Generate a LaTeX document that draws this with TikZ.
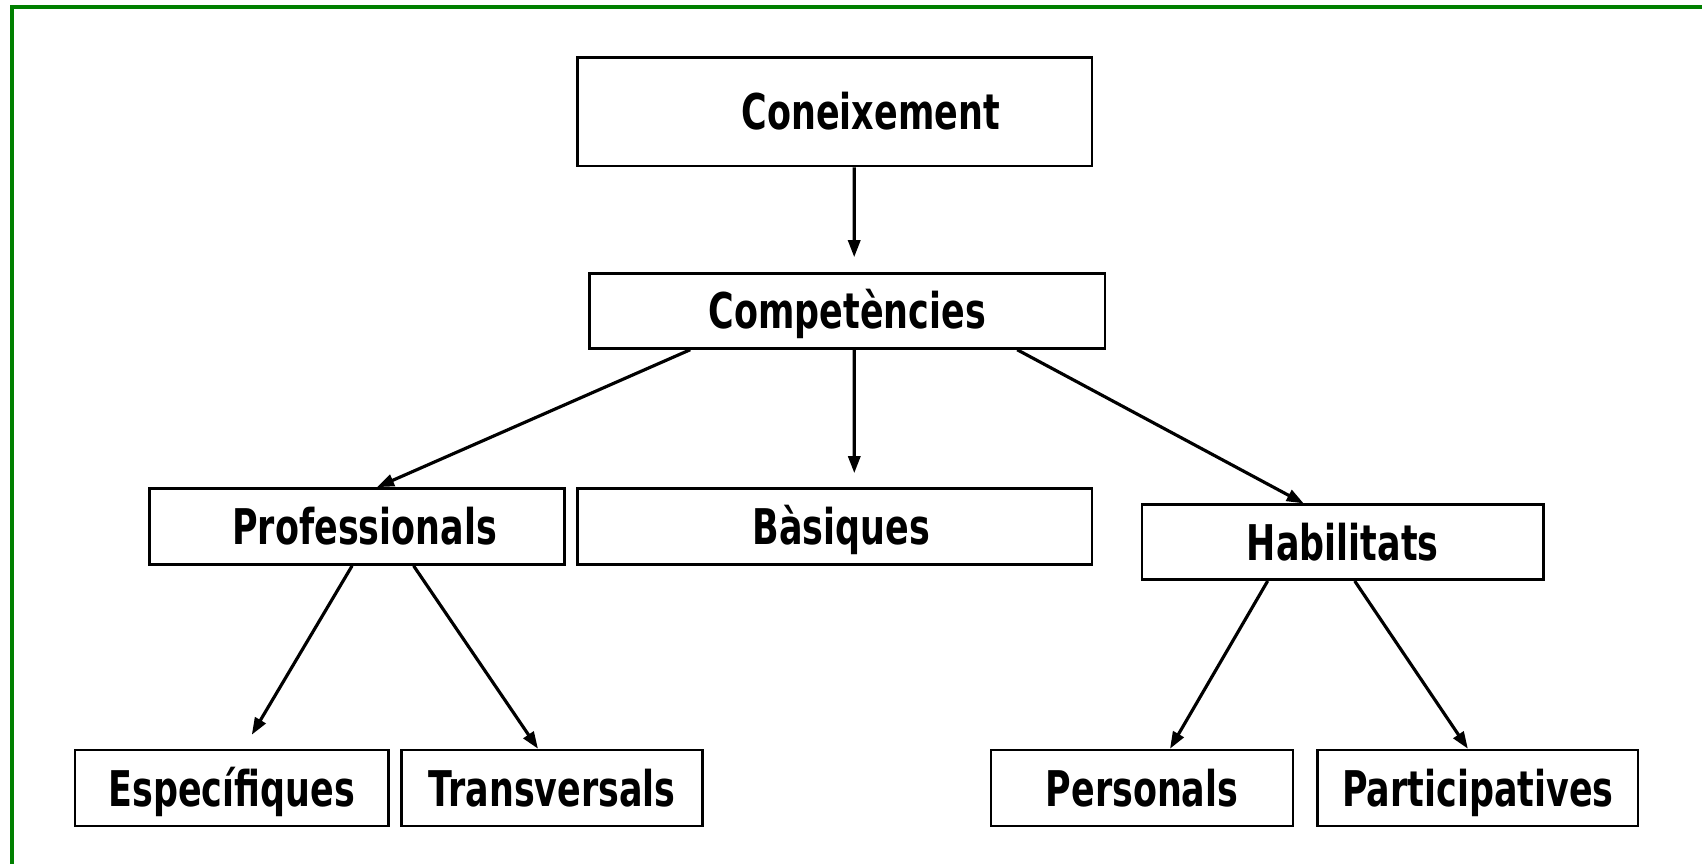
\documentclass[tikz,border=0pt]{standalone}
\usepackage{fontspec}
\usepackage{xcolor}
\usepackage{tikz}
\usetikzlibrary{arrows,arrows.meta,positioning}
\newfontfamily\boxfont{DejaVu Sans}[FakeStretch=0.71]
\definecolor{frame}{RGB}{0,128,0}

\begin{document}
\begin{tikzpicture}[
scale=1,
font=\boxfont\bfseries\fontsize{14pt}{16pt}\selectfont,
box/.style={draw,line width=0.75pt,rectangle,minimum height=0.76cm,inner sep=0pt,text height=0.36cm,text depth=0cm},
link/.style={line width=0.9pt,-{Triangle[length=1.7mm,width=1.2mm]}}
]
    % Page and frame
    \useasboundingbox (0,0) rectangle (17.02,8.64);
    \clip (0,0) rectangle (17.02,8.64);
    \fill[white] (0,0) rectangle (17.02,8.64);
    \draw[frame, line width=1.4pt] (0.12,-1) |- (18,8.57);

    % Draw boxes
    \node[box, minimum width=5.145cm, minimum height=1.085cm] (coneix) at (8.348,7.522) {\hspace*{0.72cm}Coneixement};
    \node[box, minimum width=5.156cm, minimum height=0.749cm] (comp) at (8.472,5.53) {Compet\`encies};

    \node[box, minimum width=4.147cm] (prof) at (3.571,3.375) {\hspace*{0.15cm}Professionals};
    \node[box, minimum width=5.145cm] (basi) at (8.348,3.375) {\hspace*{0.13cm}B\`asiques};
    \node[box, minimum width=4.017cm, minimum height=0.749cm] (habi) at (13.427,3.218) {Habilitats};

    \node[box, minimum width=3.137cm] (espe) at (2.318,0.759) {Espec\'ifiques};
    \node[box, minimum width=3.007cm] (trans) at (5.52,0.759) {Transversals};
    \node[box, minimum width=3.017cm] (pers) at (11.42,0.759) {Personals};
    \node[box, minimum width=3.202cm] (part) at (14.779,0.759) {Participatives};

    % Draw arrows
    \draw[link] ([xshift=0.195cm]coneix.south) -- ([xshift=0.07cm,yshift=0.15cm]comp.north);
    \draw[link] ([xshift=-1.57cm]comp.south) -- ([xshift=0.2cm]prof.north);
    \draw[link] ([xshift=0.07cm]comp.south) -- ([xshift=0.195cm,yshift=0.14cm]basi.north);
    \draw[link] ([xshift=1.7cm]comp.south) -- ([xshift=-0.39cm]habi.north);

    \draw[link] ([xshift=-0.05cm]prof.south) -- ([xshift=0.2cm,yshift=0.14cm]espe.north);
    \draw[link] ([xshift=0.565cm]prof.south) -- ([xshift=-0.14cm]trans.north);
    \draw[link] ([xshift=-0.75cm]habi.south) -- ([xshift=0.28cm]pers.north);
    \draw[link] ([xshift=0.12cm]habi.south) -- ([xshift=-0.1cm]part.north);

\end{tikzpicture}
\end{document}
